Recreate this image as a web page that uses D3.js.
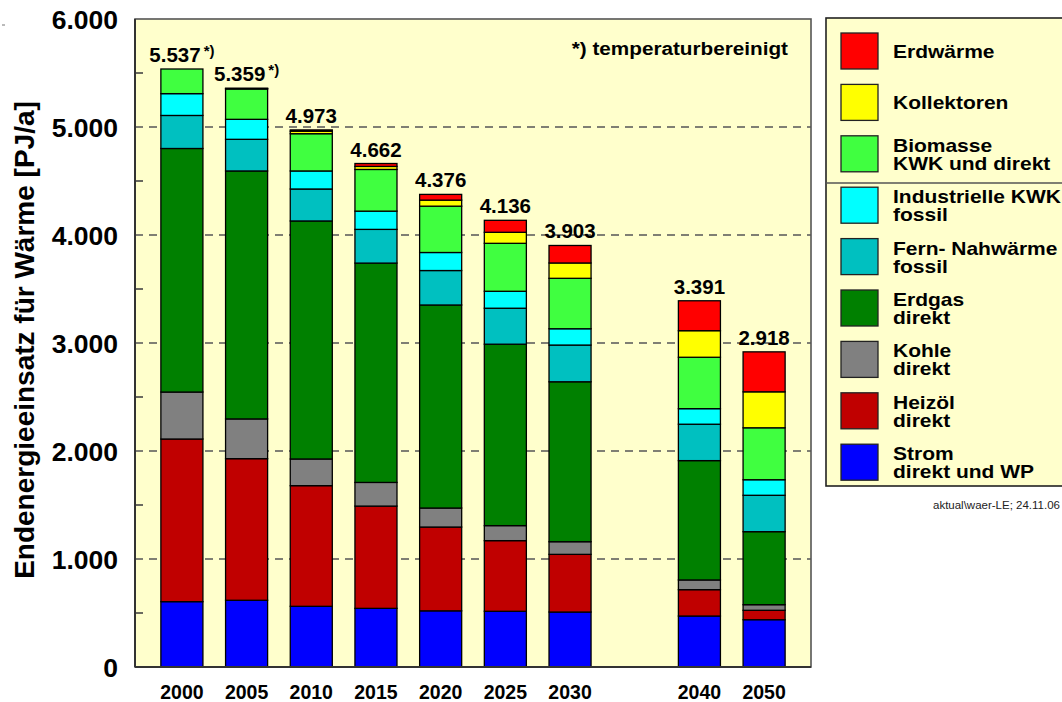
<!DOCTYPE html>
<html><head><meta charset="utf-8">
<script src="https://cdn.jsdelivr.net/npm/d3@7"></script>
<style>
body{margin:0;background:#fff;}
svg text{font-family:"Liberation Sans",Arial,Helvetica,sans-serif;font-weight:bold;fill:#000;}
</style></head><body>
<svg id="c" width="1062" height="702"></svg>
<script>
// ---- data ----
const categories = ["2000","2005","2010","2015","2020","2025","2030","2040","2050"];
const slots = ["2000","2005","2010","2015","2020","2025","2030","","2040","2050"];
const strom       = [605, 618, 562, 543, 520, 516, 509, 472, 438];
const heizoel     = [1506,1311,1117, 947, 776, 654, 534, 244,  87];
const kohle       = [435, 368, 247, 219, 176, 139, 117,  90,  52];
const erdgas      = [2255,2296,2204,2031,1880,1680,1481,1105, 676];
const fernwaerme  = [306, 293, 296, 312, 319, 333, 340, 337, 337];
const industrie   = [202, 185, 167, 169, 167, 157, 151, 144, 144];
const biomasse    = [228, 281, 345, 386, 429, 444, 467, 476, 481];
const kollektoren = [0,     4,  23,  28,  56, 102, 142, 246, 333];
const erdwaerme   = [0,     3,  12,  27,  53, 111, 162, 277, 370];
const totalLabels = ["5.537","5.359","4.973","4.662","4.376","4.136","3.903","3.391","2.918"];
const totalNotes  = ["*)","*)","","","","","","",""];
const yTicks = [0,1000,2000,3000,4000,5000,6000];
const yMinorTicks = [500,1500,2500,3500,4500,5500];
const seriesKeys = ["strom","heizoel","kohle","erdgas","fernwaerme","industrie","biomasse","kollektoren","erdwaerme"];
const seriesColors = ["#0000ff","#c00000","#808080","#008000","#00c0c0","#00ffff","#40ff40","#ffff00","#ff0000"];
const legendLabels = [["Erdwärme"],["Kollektoren"],["Biomasse","KWK und direkt"],["Industrielle KWK","fossil"],["Fern- Nahwärme","fossil"],["Erdgas","direkt"],["Kohle","direkt"],["Heizöl","direkt"],["Strom","direkt und WP"]];
const legendColors = ["#ff0000","#ffff00","#40ff40","#00ffff","#00c0c0","#008000","#808080","#c00000","#0000ff"];
const yTitle = "Endenergieeinsatz für Wärme [PJ/a]";
const noteText = "*) temperaturbereinigt";
const sourceText = "aktual\\waer-LE; 24.11.06";

// ---- build table ----
const seriesArrays = [strom,heizoel,kohle,erdgas,fernwaerme,industrie,biomasse,kollektoren,erdwaerme];
const table = categories.map((c,i)=>{const o={cat:c};seriesKeys.forEach((k,j)=>o[k]=seriesArrays[j][i]);return o;});

const svg = d3.select("#c");
const L=135,R=811,T=19,B=667;
const x = d3.scaleBand().domain(slots).range([L,R]).paddingInner(0.35).paddingOuter(0.4);
const y = d3.scaleLinear().domain([0,6000]).range([B,T]);
const color = d3.scaleOrdinal().domain(seriesKeys).range(seriesColors);
const loc = d3.formatLocale({decimal:",",thousands:".",grouping:[3],currency:["",""]});
const fmt = loc.format(",");

// plot background
svg.append("rect").attr("x",L).attr("y",T).attr("width",R-L).attr("height",B-T).attr("fill","#ffffcc");

// gridlines
svg.append("g").selectAll("line").data(yTicks.filter(d=>d>0&&d<6000)).join("line")
  .attr("x1",L).attr("x2",R).attr("y1",d=>y(d)).attr("y2",d=>y(d))
  .attr("stroke","#555").attr("stroke-width",1.6).attr("stroke-dasharray","8,6");
// minor ticks
svg.append("g").selectAll("line").data(yMinorTicks).join("line")
  .attr("x1",L).attr("x2",L+8).attr("y1",d=>y(d)).attr("y2",d=>y(d))
  .attr("stroke","#444").attr("stroke-width",1.6);

// bars
const stack = d3.stack().keys(seriesKeys)(table);
svg.append("g").selectAll("g").data(stack).join("g")
  .attr("fill",d=>color(d.key))
  .selectAll("rect").data(d=>d.filter(s=>s[1]-s[0]>0)).join("rect")
  .attr("x",d=>x(d.data.cat)).attr("width",x.bandwidth())
  .attr("y",d=>y(d[1])).attr("height",d=>y(d[0])-y(d[1]))
  .attr("stroke","#000").attr("stroke-width",1.3);

// plot border
svg.append("rect").attr("x",L).attr("y",T).attr("width",R-L).attr("height",B-T)
  .attr("fill","none").attr("stroke","#555").attr("stroke-width",1.6);
svg.append("line").attr("x1",L).attr("x2",L).attr("y1",T).attr("y2",B).attr("stroke","#333").attr("stroke-width",2);
svg.append("line").attr("x1",L).attr("x2",R).attr("y1",B).attr("y2",B).attr("stroke","#333").attr("stroke-width",2.2);

// total labels
const totals = seriesArrays.reduce((acc,arr)=>acc.map((v,i)=>v+arr[i]), categories.map(()=>0));
const tl = svg.append("g").selectAll("text").data(categories).join("text")
  .attr("x",d=>x(d)+x.bandwidth()/2).attr("y",(d,i)=>y(totals[i])-7)
  .attr("text-anchor","middle").style("font-size","20.5px");
tl.append("tspan").text((d,i)=>totalLabels[i]);
tl.filter((d,i)=>totalNotes[i]!=="").append("tspan")
  .attr("dx",3).attr("dy",-6).style("font-size","15px").text((d)=>totalNotes[categories.indexOf(d)]);

// y axis
const yAxis = svg.append("g").attr("transform",`translate(${L},0)`)
  .call(d3.axisLeft(y).tickValues(yTicks).tickFormat(fmt).tickSize(0).tickPadding(17));
yAxis.select(".domain").remove();
yAxis.selectAll("text").style("font-size","26.5px").attr("dy","0.35em");

// x axis
const xAxis = svg.append("g").attr("transform",`translate(0,${B})`)
  .call(d3.axisBottom(x).tickSize(0).tickPadding(18));
xAxis.select(".domain").remove();
xAxis.selectAll("text").style("font-size","19.5px");

// y title
svg.append("text").attr("transform","translate(34,340) rotate(-90)")
  .attr("text-anchor","middle").style("font-size","28px").text(yTitle);

// note
svg.append("text").attr("transform","translate(788,55) scale(1.12,1)").attr("text-anchor","end")
  .style("font-size","18.5px").text(noteText);

// legend
const LX=826, LY=18;
svg.append("rect").attr("x",LX).attr("y",LY).attr("width",260).attr("height",468)
  .attr("fill","#ffffcc").attr("stroke","#222").attr("stroke-width",1.6);
svg.append("line").attr("x1",LX).attr("x2",1062).attr("y1",183).attr("y2",183).attr("stroke","#555").attr("stroke-width",1.6);
const lg = svg.append("g").selectAll("g").data(legendLabels).join("g")
  .attr("transform",(d,i)=>`translate(841,${33+i*51.4})`);
lg.append("rect").attr("width",37).attr("height",36).attr("fill",(d,i)=>legendColors[i])
  .attr("stroke","#222").attr("stroke-width",1.3);
lg.each(function(d){
  const g=d3.select(this);
  if(d.length===1){
    g.append("text").attr("transform","translate(52,24.5) scale(1.2,1)").style("font-size","17.5px").text(d[0]);
  } else {
    g.append("text").attr("transform","translate(52,16) scale(1.2,1)").style("font-size","17.5px").text(d[0]);
    g.append("text").attr("transform","translate(52,34) scale(1.2,1)").style("font-size","17.5px").text(d[1]);
  }
});

// source footnote
svg.append("text").attr("x",1060).attr("y",509).attr("text-anchor","end")
  .style("font-size","11.5px").style("font-weight","normal").style("fill","#222").text(sourceText);
// tiny mark top-left
svg.append("line").attr("x1",2).attr("x2",5).attr("y1",25).attr("y2",25).attr("stroke","#777").attr("stroke-width",1);
</script>
</body></html>
